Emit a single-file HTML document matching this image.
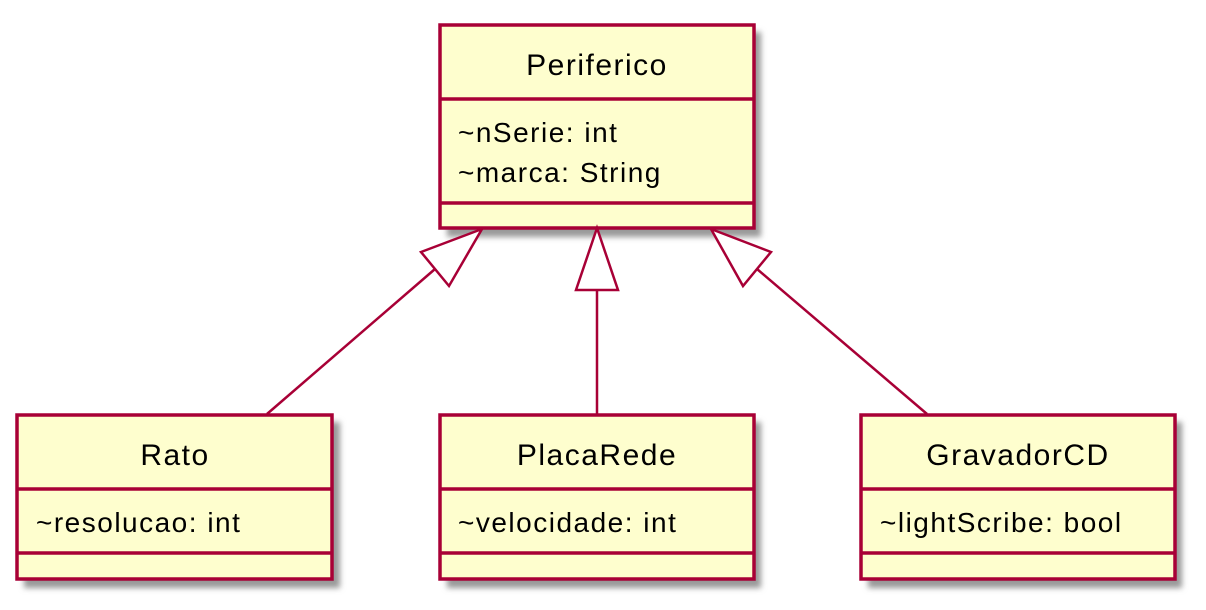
<!DOCTYPE html>
<html><head><meta charset="utf-8"><style>
html,body{margin:0;padding:0;background:#fff;}
svg{display:block;}
text{font-family:"Liberation Sans",sans-serif;fill:#000;}
.t{font-size:30px;letter-spacing:1.5px;}
.a{font-size:28px;letter-spacing:1.5px;}
</style></head><body>
<svg width="1206" height="610" viewBox="0 0 1206 610" xmlns="http://www.w3.org/2000/svg">
<defs>
<filter id="sh" x="-10%" y="-10%" width="130%" height="140%">
<feGaussianBlur stdDeviation="3"/>
</filter>
</defs>
<g fill="#999" filter="url(#sh)">
<rect x="447" y="32" width="314" height="205"/>
<rect x="24" y="422" width="316" height="166"/>
<rect x="447" y="422" width="314" height="166"/>
<rect x="868" y="422" width="314" height="166"/>
</g>
<g fill="#FEFECE" stroke="#A80036" stroke-width="3.5">
<rect x="440" y="25" width="314" height="203"/>
<line x1="440" y1="99" x2="754" y2="99"/>
<line x1="440" y1="203" x2="754" y2="203"/>
<rect x="17" y="415" width="315" height="164"/>
<line x1="17" y1="489" x2="332" y2="489"/>
<line x1="17" y1="553" x2="332" y2="553"/>
<rect x="440" y="415" width="314" height="164"/>
<line x1="440" y1="489" x2="754" y2="489"/>
<line x1="440" y1="553" x2="754" y2="553"/>
<rect x="861" y="415" width="314" height="164"/>
<line x1="861" y1="489" x2="1175" y2="489"/>
<line x1="861" y1="553" x2="1175" y2="553"/>
</g>
<g stroke="#A80036" stroke-width="2.5" fill="none">
<line x1="435" y1="269" x2="267" y2="414"/>
<line x1="597" y1="290" x2="597" y2="414"/>
<line x1="757" y1="269" x2="927" y2="414"/>
<polygon points="482,229 421,252 449,286" fill="#fff"/>
<polygon points="597,228 576,290 618,290" fill="#fff"/>
<polygon points="711,229 771,252 743,286" fill="#fff"/>
</g>
<text class="t" x="597" y="75" text-anchor="middle">Periferico</text>
<text class="a" x="458" y="142">~nSerie: int</text>
<text class="a" x="458" y="182">~marca: String</text>
<text class="t" x="175" y="465" text-anchor="middle">Rato</text>
<text class="a" x="36" y="532">~resolucao: int</text>
<text class="t" x="597" y="465" text-anchor="middle">PlacaRede</text>
<text class="a" x="458" y="532">~velocidade: int</text>
<text class="t" x="1018" y="465" text-anchor="middle">GravadorCD</text>
<text class="a" x="880" y="532">~lightScribe: bool</text>
</svg>
</body></html>
